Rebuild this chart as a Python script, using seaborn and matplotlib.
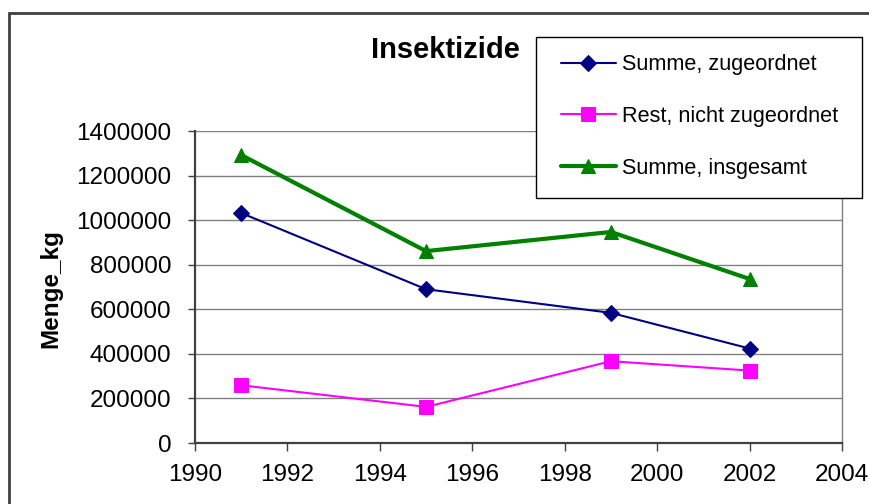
import matplotlib
matplotlib.use("Agg")
import matplotlib.pyplot as plt
import matplotlib.patches as patches
import seaborn as sns
import pandas as pd

# values
years = [1991, 1995, 1999, 2002]
summe_zugeordnet = [1032000, 690000, 584000, 424000]
rest_nicht_zugeordnet = [259000, 162000, 367000, 325000]
summe_insgesamt = [1292000, 861000, 947000, 736000]
labels = ["Summe, zugeordnet", "Rest, nicht zugeordnet", "Summe, insgesamt"]
x_ticks = [1990, 1992, 1994, 1996, 1998, 2000, 2002, 2004]
y_ticks = [0, 200000, 400000, 600000, 800000, 1000000, 1200000, 1400000]

sns.set_style("white")
plt.rcParams['font.family'] = ['Liberation Sans', 'DejaVu Sans']
# Excel text is pure black, seaborn defaults to dark grey
plt.rcParams['text.color'] = 'black'
plt.rcParams['axes.labelcolor'] = 'black'
plt.rcParams['xtick.color'] = 'black'
plt.rcParams['ytick.color'] = 'black'

df = pd.DataFrame({
    'Jahr': years,
    labels[0]: summe_zugeordnet,
    labels[1]: rest_nicht_zugeordnet,
    labels[2]: summe_insgesamt,
})

W, H = 869, 504
fig = plt.figure(figsize=(W / 100, H / 100), dpi=100)
ax = fig.add_axes([195 / W, 1 - 443 / H, (842 - 195) / W, (443 - 131) / H])

# series: (label, colour, marker, linewidth, markersize)
styles = [
    (labels[0], '#000080', 'D', 1.5, 8.5),
    (labels[1], '#FF00FF', 's', 1.5, 9.5),
    (labels[2], '#008000', '^', 3.0, 10),
]
for name, col, mk, lw, ms in styles:
    sns.lineplot(data=df, x='Jahr', y=name, ax=ax, color=col, marker=mk,
                 linewidth=lw, markersize=ms, markeredgecolor=col, label=name)

ax.set_xlim(1990, 2004)
ax.set_ylim(0, 1400000)
ax.set_xticks(x_ticks)
ax.set_yticks(y_ticks)
ax.ticklabel_format(style='plain', axis='y', useOffset=False)
ax.grid(axis='y', color='#808080', linewidth=1)
ax.set_axisbelow(True)

for s in ['left', 'bottom']:
    ax.spines[s].set_color('#404040')
    ax.spines[s].set_linewidth(1.6)
ax.spines['right'].set_color('#808080')
ax.spines['right'].set_linewidth(1.0)
ax.spines['top'].set_visible(False)

ax.tick_params(axis='y', direction='out', length=5, width=1, color='#404040',
               labelsize=17.5, labelcolor='black', pad=12, left=True)
ax.tick_params(axis='x', direction='out', length=6, width=1, color='#404040',
               labelsize=17.5, labelcolor='black', pad=9, bottom=True)

ax.set_xlabel('')
ax.set_ylabel('Menge_kg', fontsize=17.5, fontweight='bold', color='black')
ax.yaxis.set_label_coords(-0.205, 0.496)

fig.text(445 / W, 1 - 50 / H, 'Insektizide', fontsize=21, fontweight='bold',
         ha='center', va='center', color='black')

# legend: box drawn separately so its size matches the Excel one
ax.get_legend().remove()
fig.patches.append(patches.Rectangle((535.7 / W, 1 - 198.3 / H), 326 / W, 161.6 / H,
                                     transform=fig.transFigure, facecolor='white',
                                     edgecolor='black', linewidth=1.0, zorder=1))
handles, hl = ax.get_legend_handles_labels()
leg = fig.legend(handles, hl, loc='upper left', bbox_to_anchor=(560.7 / W, 1 - 54.3 / H),
                 fontsize=15.6, frameon=False, borderpad=0,
                 labelspacing=1.42, handlelength=2.55, handletextpad=0.26,
                 borderaxespad=0, labelcolor='black')
leg.set_zorder(6)

# outer chart border
fig.patches.append(patches.Rectangle((9 / W, -0.1), 1.2, 1 - 13 / H + 0.1,
                                     transform=fig.transFigure, fill=False,
                                     edgecolor='#404040', linewidth=2))

fig.savefig('out.png', dpi=100)
